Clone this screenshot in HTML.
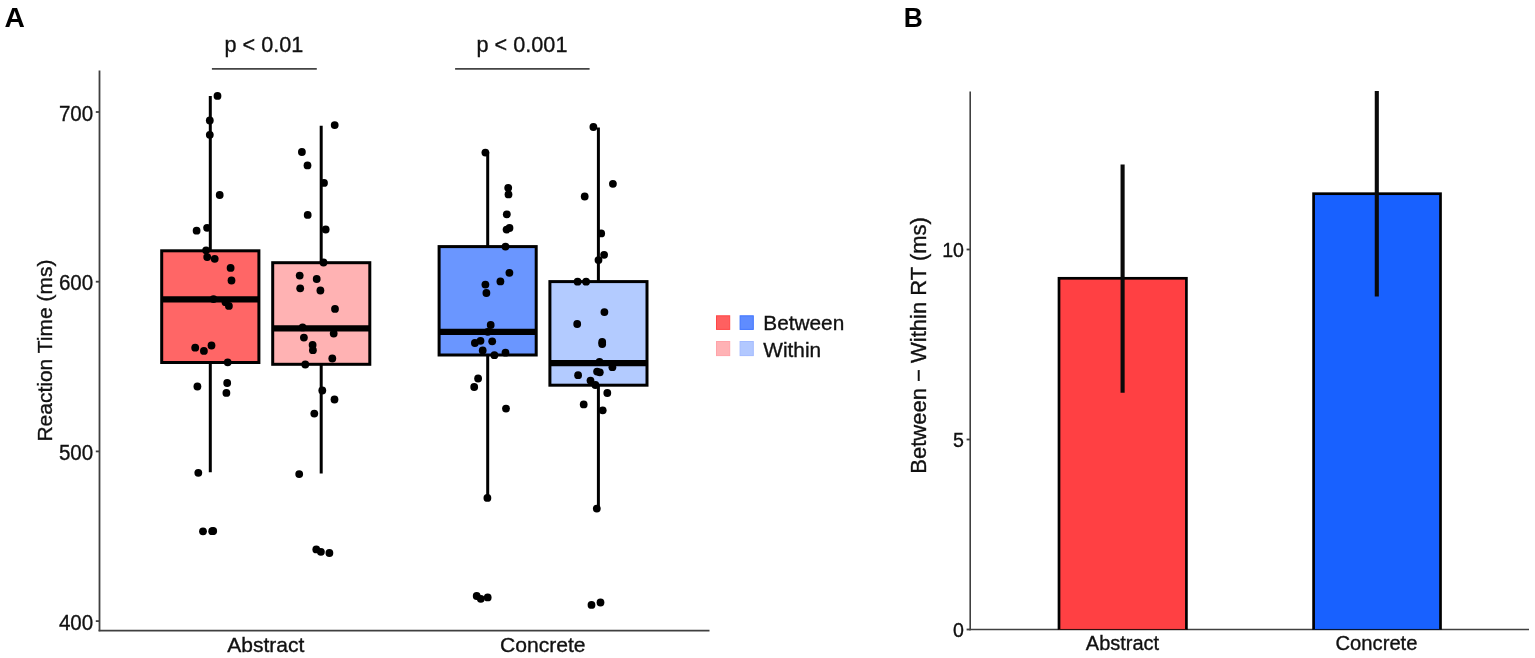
<!DOCTYPE html>
<html><head><meta charset="utf-8"><title>Figure</title>
<style>html,body{margin:0;padding:0;background:#fff;width:1535px;height:658px;overflow:hidden}svg{display:block}text{stroke:#111;stroke-width:0.35px}</style>
</head><body>
<svg width="1535" height="658" viewBox="0 0 1535 658">
<rect x="0" y="0" width="1535" height="658" fill="#ffffff"/>
<text x="4.6" y="26.9" style="stroke:none" font-family='"Liberation Sans", Arial, sans-serif' font-weight="bold" font-size="28.2">A</text>
<text transform="translate(903.7,26.9) scale(0.93,1)" style="stroke:none" font-family='"Liberation Sans", Arial, sans-serif' font-weight="bold" font-size="28.4">B</text>
<line x1="99.5" y1="70.5" x2="99.5" y2="631.3" stroke="#404040" stroke-width="1.8"/>
<line x1="98.6" y1="630.6" x2="709.5" y2="630.6" stroke="#404040" stroke-width="1.8"/>
<line x1="95.8" y1="112.0" x2="99.5" y2="112.0" stroke="#404040" stroke-width="1.8"/>
<text transform="translate(93.2,120.5) scale(0.905,1)" text-anchor="end" font-family='"Liberation Sans", Arial, sans-serif' font-size="22.7" fill="#111">700</text>
<line x1="95.8" y1="281.7" x2="99.5" y2="281.7" stroke="#404040" stroke-width="1.8"/>
<text transform="translate(93.2,290.2) scale(0.905,1)" text-anchor="end" font-family='"Liberation Sans", Arial, sans-serif' font-size="22.7" fill="#111">600</text>
<line x1="95.8" y1="451.4" x2="99.5" y2="451.4" stroke="#404040" stroke-width="1.8"/>
<text transform="translate(93.2,459.9) scale(0.905,1)" text-anchor="end" font-family='"Liberation Sans", Arial, sans-serif' font-size="22.7" fill="#111">500</text>
<line x1="95.8" y1="621.1" x2="99.5" y2="621.1" stroke="#404040" stroke-width="1.8"/>
<text transform="translate(93.2,629.6) scale(0.905,1)" text-anchor="end" font-family='"Liberation Sans", Arial, sans-serif' font-size="22.7" fill="#111">400</text>
<text transform="translate(51.6,350.6) rotate(-90)" text-anchor="middle" font-family='"Liberation Sans", Arial, sans-serif' font-size="21" fill="#111">Reaction Time (ms)</text>
<text x="265.8" y="651.7" text-anchor="middle" font-family='"Liberation Sans", Arial, sans-serif' font-size="21" fill="#111">Abstract</text>
<text x="542.8" y="651.9" text-anchor="middle" font-family='"Liberation Sans", Arial, sans-serif' font-size="21.1" fill="#111">Concrete</text>
<text transform="translate(263.9,52.1) scale(0.95,1)" text-anchor="middle" font-family='"Liberation Sans", Arial, sans-serif' font-size="22.8" fill="#111">p &lt; 0.01</text>
<line x1="211.9" y1="68.9" x2="316.8" y2="68.9" stroke="#444" stroke-width="1.7"/>
<text transform="translate(522,52.1) scale(0.95,1)" text-anchor="middle" font-family='"Liberation Sans", Arial, sans-serif' font-size="22.8" fill="#111">p &lt; 0.001</text>
<line x1="455.1" y1="68.8" x2="589.6" y2="68.8" stroke="#444" stroke-width="1.7"/>
<line x1="210.3" y1="95.9" x2="210.3" y2="472.3" stroke="#000" stroke-width="3.0"/>
<rect x="161.70" y="250.80" width="97.20" height="111.70" fill="#FF6666" stroke="#000" stroke-width="3.0"/>
<line x1="161.70" y1="299.4" x2="258.90" y2="299.4" stroke="#000" stroke-width="6.2"/>
<line x1="321.2" y1="125.8" x2="321.2" y2="473.4" stroke="#000" stroke-width="3.0"/>
<rect x="272.70" y="262.70" width="97.10" height="101.60" fill="#FFB2B3" stroke="#000" stroke-width="3.0"/>
<line x1="272.70" y1="328.4" x2="369.80" y2="328.4" stroke="#000" stroke-width="6.2"/>
<line x1="487.7" y1="152.3" x2="487.7" y2="497.3" stroke="#000" stroke-width="3.0"/>
<rect x="439.10" y="246.60" width="97.10" height="108.40" fill="#6A96FF" stroke="#000" stroke-width="3.0"/>
<line x1="439.10" y1="331.8" x2="536.20" y2="331.8" stroke="#000" stroke-width="6.2"/>
<line x1="598.4" y1="127.5" x2="598.4" y2="508.6" stroke="#000" stroke-width="3.0"/>
<rect x="549.90" y="281.60" width="97.10" height="103.60" fill="#B3CBFF" stroke="#000" stroke-width="3.0"/>
<line x1="549.90" y1="363.1" x2="647.00" y2="363.1" stroke="#000" stroke-width="6.2"/>
<circle cx="217.5" cy="95.9" r="3.9" fill="#000"/>
<circle cx="209.8" cy="120.5" r="3.9" fill="#000"/>
<circle cx="209.8" cy="134.8" r="3.9" fill="#000"/>
<circle cx="219.7" cy="195" r="3.9" fill="#000"/>
<circle cx="207.1" cy="227.8" r="3.9" fill="#000"/>
<circle cx="196.6" cy="230.7" r="3.9" fill="#000"/>
<circle cx="206.1" cy="250.3" r="3.9" fill="#000"/>
<circle cx="207.2" cy="257.1" r="3.9" fill="#000"/>
<circle cx="214.7" cy="258.8" r="3.9" fill="#000"/>
<circle cx="230.6" cy="267.9" r="3.9" fill="#000"/>
<circle cx="231.5" cy="280.5" r="3.9" fill="#000"/>
<circle cx="213.5" cy="299.1" r="3.9" fill="#000"/>
<circle cx="225.5" cy="302.2" r="3.9" fill="#000"/>
<circle cx="228.9" cy="305.9" r="3.9" fill="#000"/>
<circle cx="195.2" cy="347.7" r="3.9" fill="#000"/>
<circle cx="203.9" cy="350.9" r="3.9" fill="#000"/>
<circle cx="211.5" cy="345.5" r="3.9" fill="#000"/>
<circle cx="227.7" cy="362.3" r="3.9" fill="#000"/>
<circle cx="197.4" cy="386.5" r="3.9" fill="#000"/>
<circle cx="227.2" cy="383" r="3.9" fill="#000"/>
<circle cx="226.4" cy="392.9" r="3.9" fill="#000"/>
<circle cx="198.3" cy="472.8" r="3.9" fill="#000"/>
<circle cx="203.0" cy="531.3" r="3.9" fill="#000"/>
<circle cx="212.2" cy="531.2" r="3.9" fill="#000"/>
<circle cx="213.2" cy="530.9" r="3.9" fill="#000"/>
<circle cx="334.7" cy="125.1" r="3.9" fill="#000"/>
<circle cx="301.9" cy="152" r="3.9" fill="#000"/>
<circle cx="307.5" cy="165.4" r="3.9" fill="#000"/>
<circle cx="324" cy="182.9" r="3.9" fill="#000"/>
<circle cx="307.7" cy="214.9" r="3.9" fill="#000"/>
<circle cx="325.7" cy="229.5" r="3.9" fill="#000"/>
<circle cx="323.5" cy="262.5" r="3.9" fill="#000"/>
<circle cx="299.7" cy="275.6" r="3.9" fill="#000"/>
<circle cx="316.7" cy="279" r="3.9" fill="#000"/>
<circle cx="300.2" cy="288.3" r="3.9" fill="#000"/>
<circle cx="320.4" cy="290.5" r="3.9" fill="#000"/>
<circle cx="335" cy="308.9" r="3.9" fill="#000"/>
<circle cx="302.6" cy="327.4" r="3.9" fill="#000"/>
<circle cx="303.9" cy="337.6" r="3.9" fill="#000"/>
<circle cx="333.7" cy="333.5" r="3.9" fill="#000"/>
<circle cx="312.6" cy="344.9" r="3.9" fill="#000"/>
<circle cx="312.9" cy="350.2" r="3.9" fill="#000"/>
<circle cx="332.3" cy="358.5" r="3.9" fill="#000"/>
<circle cx="305.3" cy="364.5" r="3.9" fill="#000"/>
<circle cx="322.3" cy="390.5" r="3.9" fill="#000"/>
<circle cx="334.5" cy="399.5" r="3.9" fill="#000"/>
<circle cx="314.3" cy="413.6" r="3.9" fill="#000"/>
<circle cx="299.2" cy="474.1" r="3.9" fill="#000"/>
<circle cx="316.3" cy="549.4" r="3.9" fill="#000"/>
<circle cx="320.9" cy="551.8" r="3.9" fill="#000"/>
<circle cx="329.4" cy="553" r="3.9" fill="#000"/>
<circle cx="485.4" cy="152.6" r="3.9" fill="#000"/>
<circle cx="508.2" cy="187.8" r="3.9" fill="#000"/>
<circle cx="508.5" cy="194.4" r="3.9" fill="#000"/>
<circle cx="506.8" cy="214.3" r="3.9" fill="#000"/>
<circle cx="506.6" cy="229.6" r="3.9" fill="#000"/>
<circle cx="509.5" cy="228.0" r="3.9" fill="#000"/>
<circle cx="505.5" cy="246.6" r="3.9" fill="#000"/>
<circle cx="509.4" cy="272.8" r="3.9" fill="#000"/>
<circle cx="500.4" cy="281.4" r="3.9" fill="#000"/>
<circle cx="485.4" cy="284.6" r="3.9" fill="#000"/>
<circle cx="486.4" cy="293" r="3.9" fill="#000"/>
<circle cx="490.7" cy="325" r="3.9" fill="#000"/>
<circle cx="487.8" cy="331.8" r="3.9" fill="#000"/>
<circle cx="474.9" cy="343" r="3.9" fill="#000"/>
<circle cx="480.5" cy="340.8" r="3.9" fill="#000"/>
<circle cx="492.2" cy="341.3" r="3.9" fill="#000"/>
<circle cx="482.7" cy="350.5" r="3.9" fill="#000"/>
<circle cx="494.4" cy="355.2" r="3.9" fill="#000"/>
<circle cx="505.5" cy="352.7" r="3.9" fill="#000"/>
<circle cx="478.1" cy="378.5" r="3.9" fill="#000"/>
<circle cx="474.2" cy="387" r="3.9" fill="#000"/>
<circle cx="506" cy="408.6" r="3.9" fill="#000"/>
<circle cx="487.4" cy="497.9" r="3.9" fill="#000"/>
<circle cx="476.7" cy="596" r="3.9" fill="#000"/>
<circle cx="480.8" cy="598.8" r="3.9" fill="#000"/>
<circle cx="487.7" cy="597.4" r="3.9" fill="#000"/>
<circle cx="593.4" cy="127" r="3.9" fill="#000"/>
<circle cx="612.9" cy="183.8" r="3.9" fill="#000"/>
<circle cx="584.7" cy="196.5" r="3.9" fill="#000"/>
<circle cx="601.2" cy="233.4" r="3.9" fill="#000"/>
<circle cx="604.1" cy="254.8" r="3.9" fill="#000"/>
<circle cx="598.5" cy="260.1" r="3.9" fill="#000"/>
<circle cx="577.6" cy="281.7" r="3.9" fill="#000"/>
<circle cx="586.1" cy="281.7" r="3.9" fill="#000"/>
<circle cx="604.4" cy="312.1" r="3.9" fill="#000"/>
<circle cx="577.2" cy="324" r="3.9" fill="#000"/>
<circle cx="602.2" cy="342.0" r="3.9" fill="#000"/>
<circle cx="602.2" cy="344.0" r="3.9" fill="#000"/>
<circle cx="599.5" cy="361.9" r="3.9" fill="#000"/>
<circle cx="612.4" cy="367.2" r="3.9" fill="#000"/>
<circle cx="597.1" cy="371.6" r="3.9" fill="#000"/>
<circle cx="599.8" cy="372.3" r="3.9" fill="#000"/>
<circle cx="578.1" cy="375.2" r="3.9" fill="#000"/>
<circle cx="590.5" cy="380.6" r="3.9" fill="#000"/>
<circle cx="595.4" cy="385" r="3.9" fill="#000"/>
<circle cx="607.3" cy="393" r="3.9" fill="#000"/>
<circle cx="583.7" cy="404.4" r="3.9" fill="#000"/>
<circle cx="602.7" cy="410.3" r="3.9" fill="#000"/>
<circle cx="596.8" cy="508.6" r="3.9" fill="#000"/>
<circle cx="591.5" cy="604.9" r="3.9" fill="#000"/>
<circle cx="600.5" cy="602.5" r="3.9" fill="#000"/>
<rect x="716.5" y="315.8" width="13.2" height="13.6" fill="#FF6060" stroke="#FF4545" stroke-width="1"/>
<rect x="740.1" y="315.8" width="13.2" height="13.6" fill="#5F8CFF" stroke="#3F74FF" stroke-width="1"/>
<rect x="716.5" y="341.5" width="13.2" height="14.1" fill="#FFB2B5" stroke="#FFA3A9" stroke-width="1"/>
<rect x="740.1" y="341.5" width="13.2" height="14.1" fill="#B2C8FF" stroke="#A3BBFF" stroke-width="1"/>
<text x="763.3" y="330.3" font-family='"Liberation Sans", Arial, sans-serif' font-size="20.8" fill="#111">Between</text>
<text x="763.3" y="356.5" font-family='"Liberation Sans", Arial, sans-serif' font-size="20.8" fill="#111">Within</text>
<line x1="970.2" y1="91.5" x2="970.2" y2="630.3" stroke="#404040" stroke-width="1.6"/>
<line x1="969.4" y1="629.5" x2="1529" y2="629.5" stroke="#404040" stroke-width="1.7"/>
<defs><clipPath id="pb"><rect x="971" y="90.5" width="560" height="539.3"/></clipPath></defs>
<g clip-path="url(#pb)">
<rect x="1059.0" y="278.3" width="127.4" height="352" fill="#FF4043" stroke="#000" stroke-width="2.7"/>
<rect x="1313.6" y="193.7" width="126.9" height="436.6" fill="#1861FF" stroke="#000" stroke-width="2.7"/>
<line x1="1122.6" y1="164.4" x2="1122.6" y2="392.7" stroke="#0a0a0a" stroke-width="4.1"/>
<line x1="1376.8" y1="90.9" x2="1376.8" y2="296.6" stroke="#0a0a0a" stroke-width="4.1"/>
</g>
<line x1="966.6" y1="629.5" x2="970.4" y2="629.5" stroke="#404040" stroke-width="1.8"/>
<text x="964" y="636.7" text-anchor="end" font-family='"Liberation Sans", Arial, sans-serif' font-size="19.6" fill="#111">0</text>
<line x1="966.6" y1="439.5" x2="970.4" y2="439.5" stroke="#404040" stroke-width="1.8"/>
<text x="964" y="446.7" text-anchor="end" font-family='"Liberation Sans", Arial, sans-serif' font-size="19.6" fill="#111">5</text>
<line x1="966.6" y1="249.5" x2="970.4" y2="249.5" stroke="#404040" stroke-width="1.8"/>
<text x="964" y="256.7" text-anchor="end" font-family='"Liberation Sans", Arial, sans-serif' font-size="19.6" fill="#111">10</text>
<text transform="translate(926.1,345.4) rotate(-90)" text-anchor="middle" font-family='"Liberation Sans", Arial, sans-serif' font-size="22" fill="#111">Between − Within RT (ms)</text>
<text x="1122.5" y="649.6" text-anchor="middle" font-family='"Liberation Sans", Arial, sans-serif' font-size="20" fill="#111">Abstract</text>
<text x="1376.5" y="649.8" text-anchor="middle" font-family='"Liberation Sans", Arial, sans-serif' font-size="20.2" fill="#111">Concrete</text>
</svg>
</body></html>
